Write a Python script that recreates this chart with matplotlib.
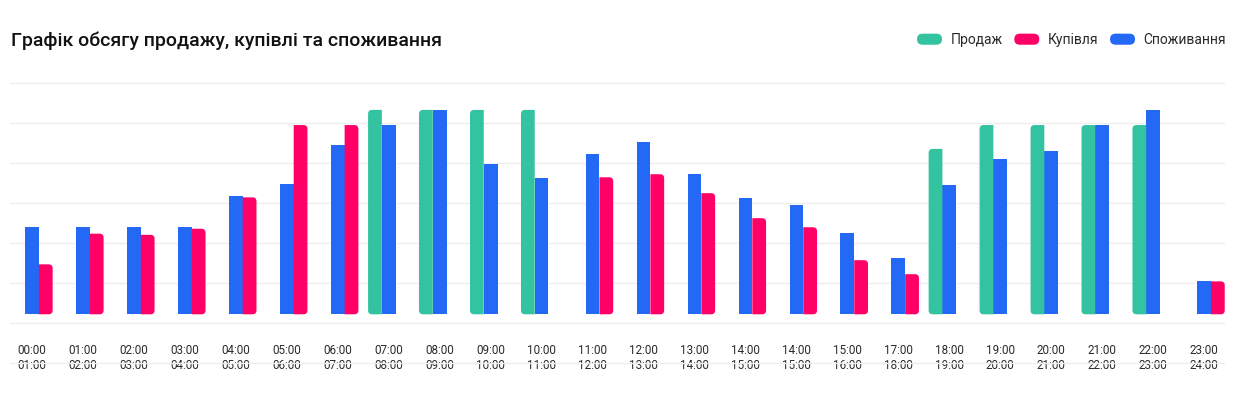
import numpy as np
import matplotlib
matplotlib.use("Agg")
import matplotlib.pyplot as plt
from matplotlib.patches import Patch, FancyBboxPatch, PathPatch
from matplotlib.path import Path
from matplotlib.legend_handler import HandlerPatch

# ===== DATA =====
slots = ["00:00\n01:00", "01:00\n02:00", "02:00\n03:00", "03:00\n04:00",
         "04:00\n05:00", "05:00\n06:00", "06:00\n07:00", "07:00\n08:00",
         "08:00\n09:00", "09:00\n10:00", "10:00\n11:00", "11:00\n12:00",
         "12:00\n13:00", "13:00\n14:00", "14:00\n15:00", "14:00\n15:00",
         "15:00\n16:00", "17:00\n18:00", "18:00\n19:00", "19:00\n20:00",
         "20:00\n21:00", "21:00\n22:00", "22:00\n23:00", "23:00\n24:00"]

sale = [0, 0, 0, 0, 0, 0, 0, 5.40, 5.40, 5.40, 5.40, 0,
        0, 0, 0, 0, 0, 0, 4.37, 5.00, 5.00, 5.00, 5.00, 0]
purchase = [1.32, 2.13, 2.10, 2.26, 3.09, 5.00, 5.00, 0, 0, 0, 0, 3.62,
            3.70, 3.20, 2.54, 2.30, 1.43, 1.06, 0, 0, 0, 0, 0, 0.87]
consumption = [2.30, 2.30, 2.30, 2.30, 3.12, 3.43, 4.46, 5.00, 5.40, 3.96, 3.59, 4.23,
               4.55, 3.70, 3.06, 2.88, 2.14, 1.48, 3.41, 4.09, 4.31, 5.00, 5.40, 0.87]

series_names = ["Продаж", "Купівля", "Споживання"]

# ===== STYLE =====
GREEN = "#33C3A0"
RED = "#FE0066"
BLUE = "#2468F6"
TEXT = "#2a2a2a"
GRID = "#EEEEEE"

W, H = 1237, 398
PX_X = 50.96   # pixels per category
PX_Y = 37.85   # pixels per value unit
BASE = 314.3   # pixel row of the bar baseline
X0 = 32.0      # pixel column of the first category

plt.rcParams["font.family"] = ["Roboto", "DejaVu Sans"]

fig = plt.figure(figsize=(W / 100, H / 100), dpi=100)
ax_top, ax_bot, ax_l, ax_r = 80, 368, 10, 1225
ax = fig.add_axes([ax_l / W, 1 - ax_bot / H, (ax_r - ax_l) / W, (ax_bot - ax_top) / H])
ax.set_xlim((ax_l - X0) / PX_X, (ax_r - X0) / PX_X)
ax.set_ylim(-(ax_bot - BASE) / PX_Y, (BASE - ax_top) / PX_Y)

# gridlines every 40 px
grid_rows = 83.3 + 40 * np.arange(8)
ax.set_yticks((BASE - grid_rows) / PX_Y)
ax.yaxis.grid(True, color=GRID, linewidth=1)
ax.set_axisbelow(True)
ax.tick_params(axis="y", length=0, labelleft=False)
for s in ax.spines.values():
    s.set_visible(False)

x = np.arange(len(slots))
w = 0.27
rx, ry = 4 / PX_X, 4 / PX_Y


def round_side(bars, side):
    # swap plain rectangles for ones with rounded corners on one side
    for rect in bars:
        h = rect.get_height()
        if h <= 0:
            rect.remove()
            continue
        x0, y0 = rect.get_x(), rect.get_y()
        x1, y1 = x0 + rect.get_width(), y0 + h
        r_y = min(ry, h / 2)
        if side == "left":
            verts = [(x1, y0), (x1, y1), (x0 + rx, y1), (x0, y1), (x0, y1 - r_y),
                     (x0, y0 + r_y), (x0, y0), (x0 + rx, y0), (x1, y0)]
        else:
            verts = [(x0, y0), (x0, y1), (x1 - rx, y1), (x1, y1), (x1, y1 - r_y),
                     (x1, y0 + r_y), (x1, y0), (x1 - rx, y0), (x0, y0)]
        codes = [Path.MOVETO, Path.LINETO, Path.LINETO, Path.CURVE3, Path.CURVE3,
                 Path.LINETO, Path.CURVE3, Path.CURVE3, Path.CLOSEPOLY]
        ax.add_patch(PathPatch(Path(verts, codes), facecolor=rect.get_facecolor(),
                               edgecolor="none", linewidth=0))
        rect.remove()


g = ax.bar(x - w, sale, w, color=GREEN, linewidth=0)
b = ax.bar(x, consumption, w, color=BLUE, linewidth=0)
r = ax.bar(x + w, purchase, w, color=RED, linewidth=0)
round_side(g, "left")
round_side(r, "right")
for rect in b:
    if rect.get_height() <= 0:
        rect.remove()

# x labels
ax.set_xticks(x)
ax.set_xticklabels(slots, fontsize=8.4, color=TEXT, linespacing=1.2)
ax.tick_params(axis="x", length=0, pad=-17)

# title
fig.text(11 / W, 1 - 41 / H, "Графік обсягу продажу, купівлі та споживання",
         fontsize=14, fontweight="medium", color="#111111", va="center", ha="left")


# legend with pill handles
def make_pill(legend, orig_handle, xdescent, ydescent, width, height, fontsize):
    return FancyBboxPatch((-xdescent, -ydescent), width, height,
                          boxstyle=f"round,pad=0,rounding_size={height / 2}")


handles = [Patch(facecolor=c, edgecolor="none") for c in (GREEN, RED, BLUE)]
fig.legend(handles, series_names, loc="center right", ncol=3, frameon=False,
           bbox_to_anchor=(1226 / W, 1 - 40 / H), fontsize=10, labelcolor=TEXT,
           handlelength=1.8, handleheight=0.85, handletextpad=0.6,
           columnspacing=0.85, borderpad=0, borderaxespad=0,
           handler_map={Patch: HandlerPatch(patch_func=make_pill)})

fig.savefig("out.png", dpi=100, facecolor="white")
